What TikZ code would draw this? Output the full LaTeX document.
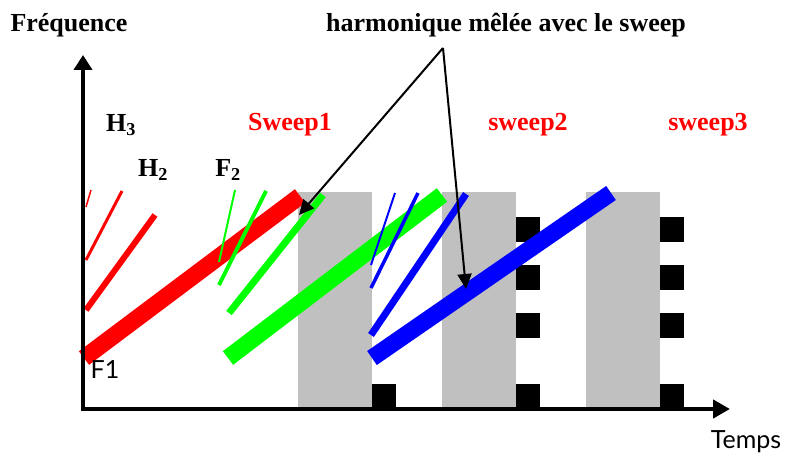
\documentclass[tikz,border=0pt]{standalone}
\usepackage{fontspec}
\setmainfont{Liberation Serif}
\newfontfamily\gillfont{Lato}
\usetikzlibrary{arrows.meta}
\definecolor{sweepred}{RGB}{255,0,0}
\definecolor{sweepgreen}{RGB}{0,255,0}
\definecolor{sweepblue}{RGB}{0,0,255}
\definecolor{gapgrey}{RGB}{192,192,192}
\begin{document}
\begin{tikzpicture}[x=1pt,y=-1pt,
	lbl/.style={font=\fontsize{26}{30}\selectfont\bfseries,inner sep=0pt},
	sans/.style={font=\fontsize{25}{29}\selectfont\gillfont,inner sep=0pt},
	gapbox/.style={rectangle,fill=gapgrey,minimum width=74pt,minimum height=216pt,inner sep=0pt},
	pulse/.style={rectangle,fill=black,minimum width=24pt,minimum height=25pt,inner sep=0pt},
	axis/.style={line width=4.5pt,{Triangle[length=15pt,width=18pt]}-{Triangle[length=17pt,width=18pt]}},
	pointer/.style={line width=2pt,-{Triangle[length=15pt,width=14pt]}}]
\useasboundingbox (0,0) rectangle (786,457);
% grey gaps and black pulses
\foreach \i/\x in {1/298,2/442,3/586} {
	\node[gapbox] (gap-\i) at (\x+37,300) {};
	\node[pulse] (pulse-\i-4) at (\x+86,396) {};
}
\foreach \i/\x in {2/442,3/586} {
	\foreach \j/\y in {1/229,2/277,3/325} {
		\node[pulse] (pulse-\i-\j) at (\x+86,\y) {};
	}
}
% red sweep
\draw[sweepred,line width=1.5pt] (86,207) -- (91,190);
\draw[sweepred,line width=3pt] (86,260) -- (122,191);
\draw[sweepred,line width=6pt] (86,310) -- (155,215);
\draw[sweepred,line width=17pt] (84,358) -- (300,196);
% green sweep
\draw[sweepgreen,line width=2pt] (219,262) -- (235,190);
\draw[sweepgreen,line width=4pt] (219,285) -- (266,191);
\draw[sweepgreen,line width=7pt] (229,313) -- (323,195);
\draw[sweepgreen,line width=17pt] (228,358) -- (442,195);
% blue sweep
\draw[sweepblue,line width=2pt] (371,265) -- (395,193);
\draw[sweepblue,line width=3.5pt] (371,288) -- (418,193);
\draw[sweepblue,line width=7pt] (371,335) -- (466,194);
\draw[sweepblue,line width=17pt] (372,358) -- (611,193);
% axes
\coordinate (ftop) at (83,55);
\coordinate (origin) at (83,409);
\coordinate (tend) at (730,409);
\draw[axis] (ftop) -- (origin) -- (tend);
% labels
\node[lbl] (freq) at (69,25) {Fréquence};
\node[lbl] (mix) at (506,25) {harmonique mêlée avec le sweep};
\node[lbl] (h3) at (121,125) {H\textsubscript{3}};
\node[lbl] (h2) at (153,170) {H\textsubscript{2}};
\node[lbl] (f2) at (228,170) {F\textsubscript{2}};
\foreach \i/\t/\x in {1/Sweep1/290,2/sweep2/528,3/sweep3/708} {
	\node[lbl,text=sweepred] (sweep-\i) at (\x,125) {\t};
}
\node[sans] (f1) at (105,370) {F1};
\node[sans] (temps) at (746,442) {Temps};
% arrows to the mixed harmonics
\coordinate (apex) at (443,48);
\coordinate (mix-1) at (299,215);
\coordinate (mix-2) at (466,289);
\draw[pointer] (apex) -- (mix-1);
\draw[pointer] (apex) -- (mix-2);
\end{tikzpicture}
\end{document}
